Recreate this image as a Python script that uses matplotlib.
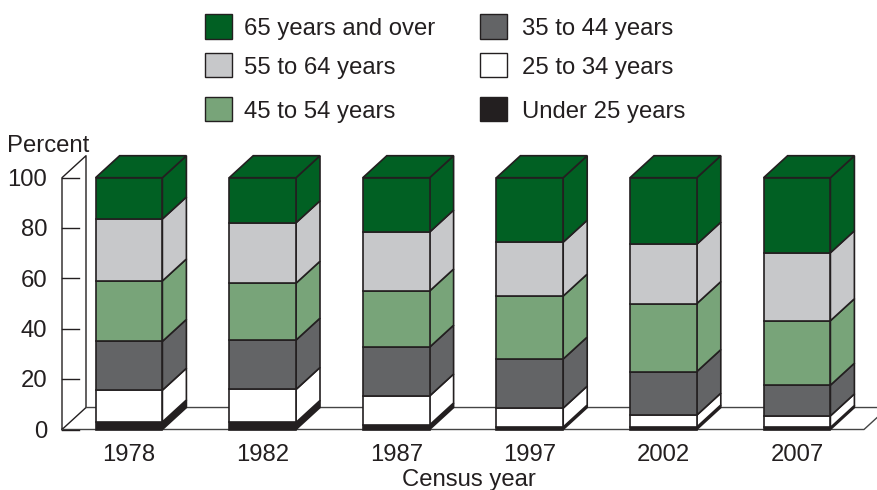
import numpy as np
import matplotlib
matplotlib.use('Agg')
import matplotlib.pyplot as plt
from matplotlib.patches import Polygon, Rectangle

plt.rcParams['font.family'] = ['Liberation Sans', 'DejaVu Sans']

years = ['1978', '1982', '1987', '1997', '2002', '2007']
under_25 = [3.0, 2.8, 1.8, 1.0, 1.0, 0.8]
age_25_34 = [12.6, 13.1, 11.5, 7.5, 4.7, 4.6]
age_35_44 = [19.4, 19.6, 19.4, 19.5, 17.3, 12.2]
age_45_54 = [24.0, 22.6, 22.3, 25.0, 27.0, 25.6]
age_55_64 = [24.6, 24.0, 23.4, 21.4, 23.6, 27.0]
age_65_over = [16.4, 17.9, 21.6, 25.6, 26.4, 29.8]

series = [under_25, age_25_34, age_35_44, age_45_54, age_55_64, age_65_over]
colors = ['#231f20', '#ffffff', '#636466', '#78a479', '#c7c8ca', '#016023']
legend_rows = [('65 years and over', '#016023', 0, 0), ('55 to 64 years', '#c7c8ca', 0, 1),
               ('45 to 54 years', '#78a479', 0, 2), ('35 to 44 years', '#636466', 1, 0),
               ('25 to 34 years', '#ffffff', 1, 1), ('Under 25 years', '#231f20', 1, 2)]

W, H = 877, 490
ink = '#231f20'
fs = 17.2
fig = plt.figure(figsize=(W / 100, H / 100), dpi=100)
# axes box = front of the floor/wall, in pixels
ax = fig.add_axes([62 / W, (H - 429.5) / H, (864 - 62) / W, (429.5 - 177.7) / H])
ax.set_xlim((62 - 129) / 133.6, (864 - 129) / 133.6)
ax.set_ylim(0, 100)
ax.axis('off')

bar_w = 0.5
dx = 24 / 133.6
dy = 22 / 2.52
x0, x1 = ax.get_xlim()

# wall and floor
ax.plot([x0, x0, x0 + dx, x0 + dx, x0], [0, 100, 100 + dy, dy, 0], color=ink, lw=1.0, clip_on=False, zorder=1)
ax.plot([x0, x1, x1 + dx, x0 + dx], [0, 0, dy, dy], color='#444444', lw=1.0, clip_on=False, zorder=1)
for t in range(0, 101, 20):
    ax.plot([x0, x0 + 17 / 133.6], [t, t], color=ink, lw=1.0, clip_on=False, zorder=1)
    ax.text(x0 - 15 / 133.6, t - 0.9, str(t), ha='right', va='center', fontsize=fs, color=ink)

for i, year in enumerate(years):
    left = i - bar_w / 2
    right = i + bar_w / 2
    bottom = 0
    for vals, c in zip(series, colors):
        top = bottom + vals[i]
        ax.add_patch(Rectangle((left, bottom), bar_w, vals[i], fc=c, ec=ink, lw=1.2, zorder=3, clip_on=False))
        ax.add_patch(Polygon([(right, bottom), (right + dx, bottom + dy), (right + dx, top + dy), (right, top)],
                             fc=c, ec=ink, lw=1.2, zorder=2, clip_on=False))
        bottom = top
    ax.add_patch(Polygon([(left, bottom), (left + dx, bottom + dy), (right + dx, bottom + dy), (right, bottom)],
                         fc=colors[-1], ec=ink, lw=1.2, zorder=2, clip_on=False))
    ax.text(i, -10.0, year, ha='center', va='center', fontsize=fs, color=ink)

fig.text(469 / W, 1 - 479.5 / H, 'Census year', ha='center', va='center', fontsize=fs, color=ink)
fig.text(7 / W, 1 - 146.5 / H, 'Percent', ha='left', va='center', fontsize=fs, color=ink)

# legend
col_x = [205, 480]
text_x = [244, 522]
row_y = [(14, 39), (53, 77), (97, 121)]
for label, c, col, row in legend_rows:
    y_top, y_bot = row_y[row]
    fig.add_artist(Rectangle((col_x[col] / W, 1 - y_bot / H), 27 / W, (y_bot - y_top) / H, fc=c, ec=ink, lw=1.0,
                             transform=fig.transFigure))
    fig.text(text_x[col] / W, 1 - ((y_top + y_bot) / 2 + 3) / H, label, ha='left', va='center',
             fontsize=fs, color=ink)

fig.savefig('out.png', dpi=100)
